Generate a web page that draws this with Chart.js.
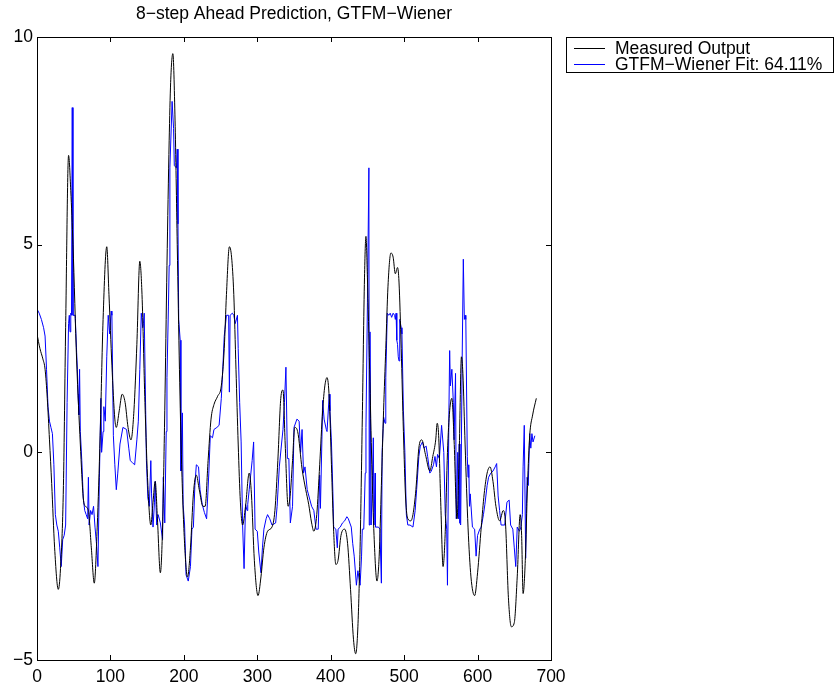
<!DOCTYPE html>
<html>
<head>
<meta charset="utf-8">
<title>8-step Ahead Prediction, GTFM-Wiener</title>
<script src="https://cdn.jsdelivr.net/npm/chart.js@4.4.1/dist/chart.umd.min.js"></script>
<style>
  html, body { margin: 0; padding: 0; background: #fff; }
  #wrap { width: 834px; height: 691px; position: relative; }
</style>
</head>
<body>
<div id="wrap"><canvas id="chart"></canvas></div>
<script>
const titleText = '8\u2212step Ahead Prediction, GTFM\u2212Wiener';
const seriesLabels = ['Measured Output', 'GTFM\u2212Wiener Fit: 64.11%'];

const xTicks = [0, 100, 200, 300, 400, 500, 600, 700];
const yTicks = [-5, 0, 5, 10];

// measured output (black) at its turning points
const measuredX = [0, 4, 8, 11, 14, 17, 20, 24, 29, 32, 36, 39, 43, 46, 49, 54, 59, 63, 66, 70,
  74, 78, 82, 86, 90, 95, 98, 102, 106, 108, 112, 116, 120, 124, 128, 132, 136, 140, 143, 147,
  151, 155, 158, 161, 164, 168, 171, 174, 177, 180, 182, 185, 188, 191, 194, 197, 201, 205, 209, 213,
  217, 221, 226, 229, 233, 237, 241, 246, 251, 255, 258, 262, 265, 268, 271, 274, 277, 280, 284, 289,
  292, 296, 301, 305, 309, 314, 320, 324, 328, 332, 335, 338, 342, 345, 348, 351, 355, 361, 366, 370,
  374, 377, 381, 385, 389, 392, 395, 398, 401, 404, 407, 410, 414, 419, 423, 427, 431, 434, 437, 440,
  443, 446, 448, 450, 453, 456, 459, 463, 466, 469, 472, 475, 478, 482, 485, 488, 491, 493, 496, 499,
  502, 505, 509, 512, 516, 520, 524, 529, 535, 539, 543, 545, 547, 550, 553, 556, 559, 562, 565, 568,
  572, 575, 578, 580, 583, 587, 591, 596, 600, 605, 609, 613, 617, 621, 625, 630, 635, 638, 642, 646,
  650, 654, 658, 660, 662, 665, 668, 671, 675, 680];
const measuredY = [2.85, 2.5, 2.25, 2.0, 1.3, 0.3, -0.75, -2.3, -3.3, -2.8, -0.8, 3.0, 7.15, 6.3, 5.0, 2.2, 0.2, -1.1, -1.3, -1.4,
  -2.3, -3.15, -1.8, 0.4, 3.2, 4.95, 3.8, 2.1, 0.8, 0.6, 1.0, 1.4, 1.2, 0.6, 0.3, 1.0, 2.6, 4.6, 3.8, 1.2,
  -0.8, -1.75, -1.2, -0.7, -1.6, -2.9, -1.8, 1.0, 4.5, 7.5, 8.9, 9.6, 8.0, 5.0, 2.0, -0.3, -2.2, -3.0, -2.3, -1.0,
  -0.55, -0.9, -1.3, -1.3, -0.2, 0.8, 1.15, 1.35, 1.6, 2.5, 3.8, 4.95, 4.7, 3.8, 2.0, 0.2, -1.2, -1.75, -1.3, -0.5,
  -1.0, -2.6, -3.45, -3.0, -2.3, -1.9, -1.8, -1.4, -0.2, 1.3, 1.5, 0.2, -1.3, -1.0, -0.2, 0.6, 0.5, -0.4, -0.9, -1.25,
  -1.7, -1.9, -1.5, -0.3, 1.0, 1.6, 1.8, 1.3, -0.3, -1.9, -2.7, -2.6, -2.0, -1.85, -2.2, -3.3, -4.5, -4.85, -4.2, -2.3,
  0.8, 4.2, 5.2, 4.2, 2.0, -0.3, -2.0, -3.1, -2.5, -0.8, 1.0, 2.5, 4.0, 4.8, 4.7, 4.3, 4.45, 4.1, 2.5, 0.5,
  -1.1, -1.6, -1.65, -1.5, -0.9, 0.1, 0.3, -0.05, -0.45, -0.1, 0.3, 0.7, 0.4, -1.3, -2.75, -1.9, 0.0, 1.0, 1.3, 0.3,
  -1.6, 0.0, 2.3, 1.9, 0.2, -1.8, -3.0, -3.45, -2.9, -1.8, -1.0, -0.5, -0.35, -0.7, -1.3, -1.65, -1.4, -1.7, -3.5, -4.2,
  -4.1, -3.0, -1.5, -2.0, -3.4, -2.6, -0.8, 0.4, 0.9, 1.3];

// GTFM-Wiener prediction (blue), jagged so every corner is listed
const fitX = [0, 3, 6, 9, 11, 13, 15, 17, 19, 21, 23, 25, 27, 29, 31, 33, 35, 37, 39, 41,
  43, 44, 45, 46, 47, 48, 49, 52, 54, 55, 56, 57, 58, 59, 61, 63, 65, 67, 69, 70,
  71, 73, 75, 77, 79, 81, 83, 85, 87, 88, 90, 91, 93, 95, 97, 99, 101, 102, 104, 106,
  108, 110, 113, 117, 122, 125, 127, 130, 133, 136, 138, 140, 142, 144, 145, 146, 148, 149, 151, 153,
  155, 156, 158, 160, 161, 163, 165, 168, 171, 172, 174, 176, 177, 179, 180, 181, 184, 186, 187, 190,
  191, 192, 193, 195, 196, 198, 199, 201, 203, 206, 209, 211, 213, 215, 217, 220, 222, 225, 228, 231,
  234, 236, 239, 241, 245, 248, 251, 253, 255, 258, 261, 262, 263, 266, 268, 270, 273, 274, 276, 278,
  280, 282, 284, 286, 287, 289, 291, 293, 295, 297, 300, 302, 305, 307, 309, 312, 314, 317, 320, 325,
  327, 330, 333, 335, 337, 339, 341, 343, 345, 348, 350, 354, 357, 359, 361, 363, 365, 368, 371, 374,
  377, 380, 383, 385, 386, 388, 389, 391, 394, 395, 398, 399, 401, 403, 404, 407, 409, 410, 413, 416,
  419, 422, 424, 428, 430, 432, 435, 437, 440, 442, 443, 445, 447, 448, 450, 452, 452.5, 453.5, 455, 457,
  458, 459, 460.5, 461, 465, 467, 469, 470, 472, 474, 475, 477, 479, 481, 483, 485, 487, 488, 489, 490,
  491, 492, 493, 494, 496, 497, 499, 501, 503, 505, 508, 512, 515, 517, 520, 522, 525, 527, 530, 532,
  535, 537, 540, 542, 544, 545.5, 548, 551, 554, 556, 558, 559, 561, 562, 563, 565, 567, 568, 570, 571,
  573, 574, 575, 576, 577, 579, 580.6, 582, 583, 584, 586, 587, 588, 589, 590, 593, 596, 598, 600, 603,
  605, 608, 610, 613, 615, 618, 621, 624, 626, 628, 630, 632, 637, 640, 643, 645, 648, 650, 652, 654,
  657, 659, 661, 662, 663.6, 665.5, 666.5, 667.5, 669, 671, 672.5, 674, 675.5, 678];
const fitY = [3.45, 3.35, 3.2, 3.0, 2.8, 2.0, 1.1, 0.75, 0.6, 0.45, -0.3, -1.5, -1.75, -1.9, -2.3, -2.75, -2.1, -2.0, -1.75, 1.2,
  3.1, 3.3, 2.9, 3.35, 3.3, 8.3, 3.3, 3.3, 2.4, 2.0, 1.4, 0.9, 2.0, 0.5, -0.2, -1.1, -1.4, -1.5, -1.6, -0.6,
  -1.75, -1.4, -1.5, -1.3, -1.8, -2.2, -2.75, -0.6, 1.3, 0.0, 0.5, 1.1, 0.75, 2.3, 3.3, 2.85, 3.4, 3.3, 0.4, -0.3,
  -0.9, -0.5, 0.2, 0.6, 0.55, 0.1, -0.2, -0.25, -0.3, 0.3, 0.75, 2.0, 3.35, 3.0, 3.1, 3.35, 1.0, -0.2, -1.1, -1.3,
  -0.2, -1.0, -1.8, -1.2, -0.7, -1.75, -1.5, -1.7, -2.1, -0.6, -1.7, 0.5, 1.8, 3.5, 4.5, 6.85, 8.45, 7.8, 6.9, 6.85,
  7.3, 5.5, 3.2, 2.7, -0.45, 0.95, -1.25, -1.75, -2.95, -3.1, -2.75, -1.85, -1.8, -0.8, -0.3, -0.35, -0.9, -1.25, -1.45, -1.6,
  -0.5, 0.4, 0.35, 0.55, 0.6, 0.65, 1.3, 2.0, 2.8, 3.3, 3.3, 1.45, 3.3, 3.35, 3.3, 3.1, 3.3, 2.5, 1.2, 0.25,
  -1.75, -2.8, -1.25, -1.4, -1.25, -0.9, -0.55, -0.2, 0.25, -1.85, -1.9, -2.4, -2.9, -2.3, -1.85, -1.6, -1.5, -1.6, -1.75, -1.7,
  -1.3, -0.35, 0.2, 0.55, 1.2, 2.05, -0.15, -0.15, -1.7, -1.3, 0.6, 0.8, 0.75, 0.0, 0.55, -0.5, -0.35, -0.9, -1.1, -1.3,
  -1.4, -1.85, -1.85, -0.55, -1.35, 0.3, 1.25, 0.8, 0.55, 0.5, 1.4, 1.0, 0.25, -1.0, -1.8, -1.85, -2.3, -1.85, -1.8, -1.7,
  -1.65, -1.55, -1.6, -1.8, -2.2, -2.5, -3.2, -2.85, -3.2, -2.5, -1.85, -1.85, -0.5, 0.6, 3.6, 6.85, -1.75, 2.9, -1.75, -0.55,
  0.35, -1.75, -0.5, -1.8, -1.8, -1.85, -3.15, 0.0, 0.85, 0.7, 1.8, 3.35, 3.3, 3.35, 3.25, 3.35, 3.3, 3.2, 3.35, 2.7,
  2.6, 2.3, 2.2, 3.2, 3.0, 2.85, 1.0, 0.0, -1.5, -1.75, -1.75, -1.8, -1.4, -0.9, -0.1, 0.15, 0.25, 0.1, 0.15, -0.1,
  -0.5, -0.45, -0.3, -0.1, -0.35, -0.05, -0.15, 0.65, 0.0, -1.5, -1.85, -3.2, 1.0, 2.45, 1.6, 2.0, 1.2, 0.3, 1.9, -1.6,
  0.0, -1.6, 0.2, -1.7, -1.75, 2.2, 4.65, 3.2, 3.3, 3.2, -0.1, -0.6, -0.3, -1.3, -1.0, -1.8, -1.85, -2.5, -2.0, -1.85,
  -1.8, -1.5, -1.25, -0.8, -0.6, -0.5, -0.45, -0.35, -0.27, -1.05, -1.4, -1.75, -1.75, -1.2, -1.15, -1.75, -1.85, -2.3, -2.75, -1.8,
  -1.9, -1.8, -1.5, -0.35, 0.65, -2.55, -1.3, -0.6, -0.8, 0.45, 0.1, 0.45, 0.25, 0.4];

const FONT = '"Liberation Sans", Arial, Helvetica, sans-serif';
const FONT_SIZE = 17.5;
const TICK = 5;

const toPoints = (xs, ys) => xs.map((x, i) => ({ x: x, y: ys[i] }));
const minus = v => String(v).replace('-', '\u2212');

// box, inward ticks, title and legend the way MATLAB draws them
const frame = {
  id: 'frame',
  afterDraw(chart) {
    const { ctx, chartArea: a, scales } = chart;
    ctx.save();
    ctx.strokeStyle = '#000';
    ctx.lineWidth = 1;
    ctx.strokeRect(Math.round(a.left) + 0.5, Math.round(a.top) + 0.5,
      Math.round(a.right - a.left), Math.round(a.bottom - a.top));

    ctx.beginPath();
    xTicks.forEach(v => {
      const px = Math.round(scales.x.getPixelForValue(v)) + 0.5;
      ctx.moveTo(px, a.bottom); ctx.lineTo(px, a.bottom - TICK);
      ctx.moveTo(px, a.top); ctx.lineTo(px, a.top + TICK);
    });
    yTicks.forEach(v => {
      const py = Math.round(scales.y.getPixelForValue(v)) + 0.5;
      ctx.moveTo(a.left, py); ctx.lineTo(a.left + TICK, py);
      ctx.moveTo(a.right, py); ctx.lineTo(a.right - TICK, py);
    });
    ctx.stroke();

    // title
    ctx.fillStyle = '#000';
    ctx.font = FONT_SIZE + 'px ' + FONT;
    ctx.textAlign = 'center';
    ctx.textBaseline = 'middle';
    ctx.fillText(titleText, (a.left + a.right) / 2, 14);

    // legend
    const lx = 566, ly = 37, lw = 267, lh = 35;
    ctx.fillStyle = '#fff';
    ctx.fillRect(lx, ly, lw, lh);
    ctx.strokeRect(lx + 0.5, ly + 0.5, lw, lh);
    ctx.textAlign = 'left';
    chart.data.datasets.forEach((ds, i) => {
      const y = 48 + i * 16;
      ctx.strokeStyle = ds.borderColor;
      ctx.beginPath();
      ctx.moveTo(574, y + 0.5); ctx.lineTo(605, y + 0.5);
      ctx.stroke();
      ctx.fillStyle = '#000';
      ctx.fillText(ds.label, 615, y + 1);
    });
    ctx.restore();
  }
};

new Chart(document.getElementById('chart'), {
  type: 'line',
  data: {
    datasets: [
      {
        label: seriesLabels[0],
        data: toPoints(measuredX, measuredY),
        borderColor: '#000000',
        borderWidth: 1,
        pointRadius: 0,
        cubicInterpolationMode: 'monotone',
        fill: false
      },
      {
        label: seriesLabels[1],
        data: toPoints(fitX, fitY),
        borderColor: '#0000ff',
        borderWidth: 1,
        pointRadius: 0,
        tension: 0,
        fill: false
      }
    ]
  },
  options: {
    responsive: true,
    maintainAspectRatio: false,
    animation: false,
    layout: { padding: { top: 37, right: 283, left: 0, bottom: 0 } },
    plugins: {
      legend: { display: false },
      title: { display: false },
      tooltip: { enabled: false }
    },
    scales: {
      x: {
        type: 'linear',
        min: 0,
        max: 700,
        afterBuildTicks: s => { s.ticks = xTicks.map(v => ({ value: v })); },
        afterFit: s => { s.height = 31; },
        grid: { display: false, drawTicks: false },
        border: { display: false },
        ticks: { color: '#000', padding: 7, maxRotation: 0, font: { family: FONT, size: FONT_SIZE } }
      },
      y: {
        type: 'linear',
        min: -5,
        max: 10,
        afterBuildTicks: s => { s.ticks = yTicks.map(v => ({ value: v })); },
        afterFit: s => { s.width = 37; },
        grid: { display: false, drawTicks: false },
        border: { display: false },
        ticks: { color: '#000', padding: 4, callback: v => minus(v), font: { family: FONT, size: FONT_SIZE } }
      }
    }
  },
  plugins: [frame]
});
</script>
</body>
</html>
